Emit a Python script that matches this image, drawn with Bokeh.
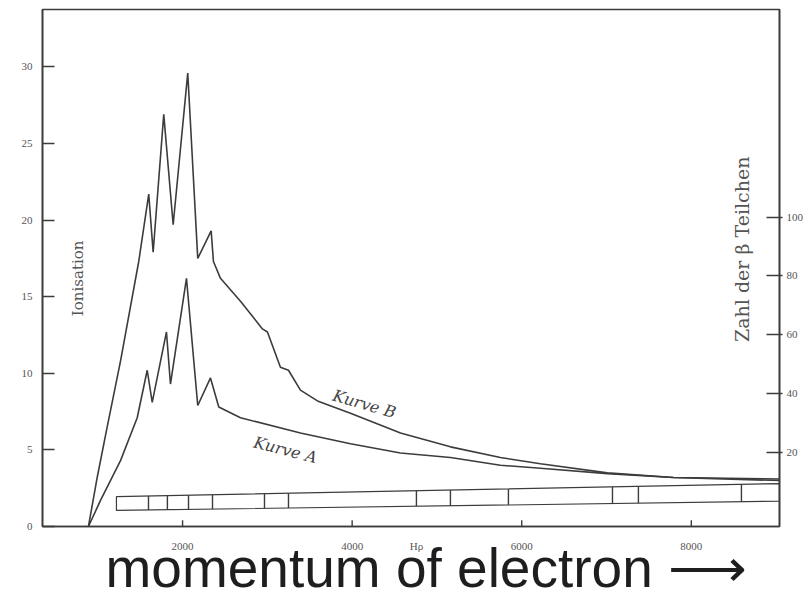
import numpy as np
from bokeh.plotting import figure
from bokeh.models import Range1d, LinearAxis, FixedTicker
from bokeh.core.properties import value
from bokeh.embed import file_html
from bokeh.resources import INLINE

# ---- data ----
mom_B = [890, 993, 1111, 1268, 1483, 1601, 1653, 1778, 1889, 2061, 2179, 2337, 2364,
         2447, 2683, 2942, 3001, 3154, 3249, 3390, 3591, 3980, 4570, 5159, 5749, 6220,
         7010, 7789, 9040]
ion_B = [0, 3.2, 6.5, 10.8, 17.3, 21.7, 17.9, 26.9, 19.7, 29.6, 17.5, 19.3, 17.3,
         16.2, 14.7, 12.9, 12.7, 10.4, 10.2, 8.9, 8.2, 7.4, 6.1, 5.2, 4.5, 4.1,
         3.5, 3.2, 3.1]

mom_A = [890, 1032, 1268, 1465, 1583, 1642, 1810, 1857, 2046, 2179, 2329, 2427, 2683,
         3390, 3980, 4570, 5159, 5749, 6220, 7010, 7789, 9040]
ion_A = [0, 1.7, 4.3, 7.1, 10.2, 8.1, 12.7, 9.3, 16.2, 7.9, 9.7, 7.8, 7.1,
         6.1, 5.4, 4.8, 4.5, 4.0, 3.8, 3.45, 3.2, 3.0]

strip_x = [1220, 9040]
strip_top = [1.95, 2.8]
strip_bottom = [1.05, 1.65]
strip_marks = [1598, 1821, 2070, 2353, 2966, 3249, 4758, 5159, 5843, 7070, 7376, 8591]

left_ticks = [0, 5, 10, 15, 20, 25, 30]
bottom_ticks = [2000, 4000, 6000, 8000]
right_ticks = [20, 40, 60, 80, 100]
hrho_at = 4758
hrho_label = "Hρ"
x_title = "\u00a0\u00a0momentum of electron ⟶"

INK = "#3c3c3c"
SERIF = "Liberation Serif"
LABEL_GREY = "#555555"

p = figure(width=810, height=601, output_backend="svg", toolbar_location=None,
           x_range=Range1d(348, 9040), y_range=Range1d(0, 33.75),
           min_border_left=42, min_border_right=31, min_border_top=9,
           min_border_bottom=75, background_fill_color="white",
           border_fill_color="white", outline_line_color=INK,
           outline_line_width=1.6)
p.title.visible = False
p.grid.visible = False

p.extra_y_ranges = {"count": Range1d(-5.08, 170.5)}

for ax in (p.xaxis[0], p.yaxis[0]):
    ax.axis_line_color = INK
    ax.axis_line_width = 1.6
    ax.major_tick_line_color = INK
    ax.major_tick_line_width = 1.4
    ax.minor_tick_line_color = None
    ax.major_label_text_font = SERIF
    ax.major_label_text_font_size = "11px"
    ax.major_label_text_color = LABEL_GREY
    ax.major_tick_out = 0

p.yaxis[0].ticker = FixedTicker(ticks=left_ticks)
p.yaxis[0].major_tick_in = 12
p.yaxis[0].major_label_standoff = 10

# bottom axis: labels (incl. the H-rho mark); tick marks drawn separately
xa = p.xaxis[0]
xa.ticker = FixedTicker(ticks=sorted(bottom_ticks + [hrho_at]))
xa.major_label_overrides = {hrho_at: hrho_label}
xa.major_tick_line_color = None
xa.major_label_standoff = 13
xa.axis_label = x_title
xa.axis_label_text_font = "Liberation Sans"
xa.axis_label_text_font_size = "55px"
xa.axis_label_text_font_style = "normal"
xa.axis_label_text_color = "#1e1e1e"
xa.axis_label_standoff = -18

rax = LinearAxis(y_range_name="count", ticker=FixedTicker(ticks=right_ticks))
rax.axis_line_color = INK
rax.axis_line_width = 1.6
rax.major_tick_line_color = INK
rax.major_tick_line_width = 1.4
rax.minor_tick_line_color = None
rax.major_tick_in = 13
rax.major_tick_out = 3
rax.major_label_standoff = 4
rax.major_label_text_font = SERIF
rax.major_label_text_font_size = "11px"
rax.major_label_text_color = LABEL_GREY
p.add_layout(rax, "right")

# inward tick marks of the bottom axis
bt = np.array(bottom_ticks, dtype=float)
p.segment(x0=bt, y0=np.zeros_like(bt), x1=bt, y1=np.full_like(bt, 0.4),
          line_color=INK, line_width=1.4)

# curves
p.line(mom_B, ion_B, line_color=INK, line_width=1.6)
p.line(mom_A, ion_A, line_color=INK, line_width=1.6)

# spectrum strip
p.patch([strip_x[0], strip_x[1], strip_x[1], strip_x[0]],
        [strip_bottom[0], strip_bottom[1], strip_top[1], strip_top[0]],
        fill_color=None, line_color=INK, line_width=1.2)
marks = np.array(strip_marks, dtype=float)
p.segment(x0=marks, y0=np.interp(marks, strip_x, strip_bottom),
          x1=marks, y1=np.interp(marks, strip_x, strip_top),
          line_color=INK, line_width=1.4)

# texts
p.text(x=[772], y=[16.2], text=["Ionisation"], angle=np.pi / 2,
       text_align="center", text_baseline="middle",
       text_font=value("DejaVu Serif"), text_font_size="15px", text_color=LABEL_GREY)
p.text(x=[8600], y=[18.1], text=["Zahl der β Teilchen"], angle=np.pi / 2,
       text_align="center", text_baseline="middle",
       text_font=value("DejaVu Serif"), text_font_size="19px", text_color=LABEL_GREY)
p.text(x=[4145], y=[8.0], text=["Kurve B"], angle=-0.28,
       text_align="center", text_baseline="middle", text_font_style="italic",
       text_font=value("DejaVu Serif"), text_font_size="16px", text_color="#444444")
p.text(x=[3213], y=[5.0], text=["Kurve A"], angle=-0.25,
       text_align="center", text_baseline="middle", text_font_style="italic",
       text_font=value("DejaVu Serif"), text_font_size="16px", text_color="#444444")

open("out.html", "w").write(file_html(p, INLINE))
